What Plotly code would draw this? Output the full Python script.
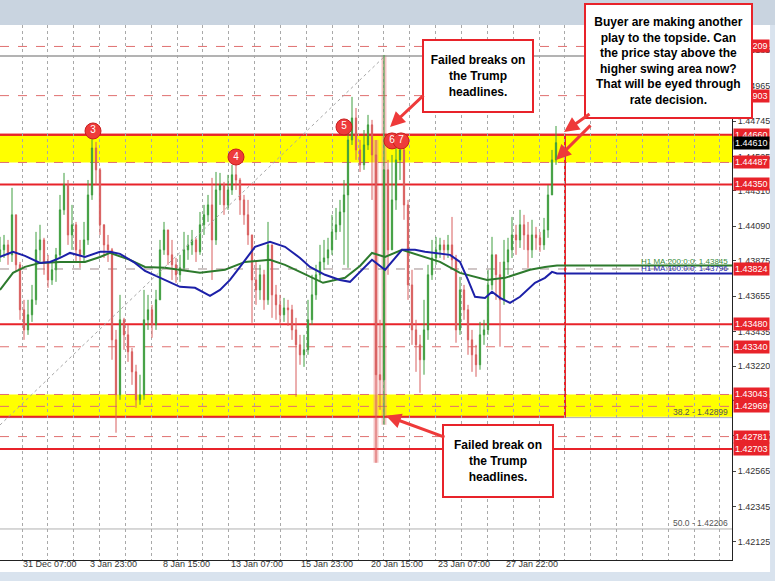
import plotly.graph_objects as go

# ---------------- data ----------------
bar_x = list(range(0, 560, 4))  # hourly-bar position index (4 bars per candle)
first_open = 1.43900
close = [1.43943,1.43974,1.43912,1.44161,1.43850,1.43570,1.43445,1.43539,1.43632,1.43943,
         1.44005,1.43868,1.43756,1.43819,1.43912,1.44192,1.44347,1.44036,1.44099,1.43943,
         1.43912,1.44005,1.44285,1.44577,1.44441,1.44099,1.43974,1.43943,1.43383,1.43041,
         1.43508,1.43414,1.43309,1.43184,1.43010,1.43041,1.43508,1.43570,1.43477,1.43632,
         1.43943,1.44067,1.43912,1.43850,1.43788,1.43831,1.43943,1.43974,1.44005,1.43931,
         1.44099,1.44161,1.44223,1.44005,1.44316,1.44347,1.44223,1.44316,1.44410,1.44378,
         1.44254,1.44161,1.44036,1.43756,1.43694,1.43788,1.43632,1.43974,1.43663,1.43601,
         1.43539,1.43582,1.43570,1.43445,1.43352,1.43290,1.43321,1.43508,1.43663,1.43788,
         1.43868,1.43893,1.43943,1.44055,1.44099,1.44179,1.44285,1.44627,1.44764,1.44565,
         1.44472,1.44596,1.44721,1.44534,1.43166,1.43134,1.44441,1.43943,1.44254,1.44503,
         1.44565,1.44223,1.43725,1.43445,1.43352,1.43259,1.43445,1.43788,1.43893,1.43943,
         1.43974,1.43943,1.43974,1.43881,1.43445,1.43694,1.43570,1.43383,1.43290,1.43228,
         1.43414,1.43445,1.43725,1.43912,1.43788,1.43632,1.43868,1.43943,1.44036,1.44005,
         1.44099,1.44036,1.43943,1.44036,1.44018,1.43974,1.44067,1.44285,1.44503,1.44610]
high = [1.44024,1.44036,1.44005,1.44329,1.44161,1.43868,1.43632,1.43632,1.43725,1.44055,
        1.44099,1.44018,1.43912,1.43868,1.43955,1.44285,1.44422,1.44378,1.44223,1.44117,
        1.44005,1.44117,1.44378,1.44633,1.44615,1.44453,1.44080,1.44036,1.43955,1.43445,
        1.43663,1.43520,1.43477,1.43333,1.43228,1.43166,1.43694,1.43663,1.43601,1.43694,
        1.44005,1.44117,1.44055,1.44005,1.43893,1.43912,1.44055,1.44036,1.44067,1.44018,
        1.44179,1.44223,1.44285,1.44391,1.44428,1.44422,1.44366,1.44410,1.44472,1.44484,
        1.44391,1.44285,1.44254,1.44036,1.43868,1.43850,1.43819,1.44117,1.43943,1.43725,
        1.43663,1.43644,1.43632,1.43601,1.43520,1.43414,1.43414,1.43632,1.43788,1.43850,
        1.43974,1.44005,1.44018,1.44161,1.44204,1.44254,1.44378,1.44689,1.44895,1.44826,
        1.44627,1.44689,1.44783,1.44752,1.44627,1.43508,1.45156,1.44503,1.44534,1.44596,
        1.44615,1.44577,1.44254,1.43819,1.43508,1.43414,1.43632,1.43850,1.44005,1.44024,
        1.44018,1.44005,1.44036,1.44148,1.43912,1.43775,1.43725,1.43601,1.43445,1.43352,
        1.43495,1.43508,1.43819,1.44024,1.43893,1.43868,1.44005,1.44018,1.44148,1.44099,
        1.44192,1.44161,1.44117,1.44130,1.44086,1.44055,1.44142,1.44347,1.44565,1.44714]
low = [1.43868,1.43893,1.43850,1.43868,1.43806,1.43508,1.43383,1.43414,1.43495,1.43601,
       1.43868,1.43788,1.43707,1.43725,1.43744,1.43893,1.44161,1.43974,1.43943,1.43868,
       1.43831,1.43868,1.43974,1.44254,1.44347,1.44036,1.43893,1.43868,1.43259,1.42805,
       1.43010,1.43321,1.43246,1.43103,1.42960,1.42979,1.43010,1.43445,1.43396,1.43445,
       1.43632,1.43912,1.43850,1.43756,1.43738,1.43744,1.43819,1.43881,1.43912,1.43868,
       1.43912,1.44036,1.44117,1.43756,1.43974,1.44223,1.44161,1.44192,1.44285,1.44316,
       1.44161,1.44099,1.43974,1.43489,1.43601,1.43632,1.43570,1.43601,1.43520,1.43508,
       1.43477,1.43495,1.43470,1.43383,1.43029,1.43228,1.43215,1.43290,1.43477,1.43632,
       1.43744,1.43819,1.43850,1.43912,1.44005,1.44055,1.43850,1.43831,1.44596,1.44503,
       1.44428,1.44441,1.44565,1.44254,1.42618,1.42948,1.42855,1.43788,1.43943,1.44192,
       1.44378,1.44130,1.43632,1.43352,1.43184,1.43054,1.43166,1.43383,1.43756,1.43850,
       1.43893,1.43881,1.43893,1.43819,1.43365,1.43414,1.43508,1.43290,1.43184,1.43153,
       1.43197,1.43352,1.43414,1.43694,1.43632,1.43340,1.43601,1.43788,1.43893,1.43912,
       1.43955,1.43943,1.43831,1.43893,1.43943,1.43931,1.43943,1.44018,1.44285,1.44472]
open_ = [first_open] + close[:-1]

headline_bars = [94, 96]  # Trump-headline spike candles (highlighted)

ma100_x = [0,13,25,40,50,60,70,85,100,110,120,135,145,160,180,195,210,220,230,240,
           255,270,285,300,310,325,340,350,362,372,385,395,402,415,425,450,460,468,475,485,
           492,500,510,520,535,545,552,557,732]
ma100 = [1.43899,1.43931,1.43906,1.43862,1.43868,1.43893,1.43924,1.43899,1.43931,1.43931,
         1.43918,1.43862,1.43812,1.43769,1.43713,1.43707,1.43657,1.43694,1.43756,1.43837,
         1.43962,1.43993,1.43962,1.43893,1.43837,1.43788,1.43756,1.43744,1.43819,1.43881,
         1.43819,1.43893,1.43943,1.43943,1.43931,1.43912,1.43868,1.43756,1.43651,1.43644,
         1.43682,1.43644,1.43613,1.43651,1.43738,1.43769,1.43806,1.43796,1.43796]
ma200_x = [0,13,25,40,60,85,100,110,130,145,165,185,200,225,245,270,285,300,323,345,
           360,372,385,402,425,440,460,487,505,530,545,557,732]
ma200 = [1.43694,1.43800,1.43837,1.43862,1.43868,1.43868,1.43899,1.43924,1.43881,1.43837,
         1.43831,1.43812,1.43800,1.43819,1.43868,1.43881,1.43850,1.43806,1.43738,1.43769,
         1.43843,1.43924,1.43899,1.43943,1.43899,1.43868,1.43800,1.43756,1.43769,1.43819,
         1.43837,1.43845,1.43845]

solid_levels = [1.44660, 1.44350, 1.43480, 1.42703]
dashed_levels = [1.45209, 1.44903, 1.44487, 1.43340, 1.43043, 1.42969, 1.42781]
yellow_zones = [(1.44487, 1.44660), (1.42905, 1.43043)]
fib_zero = 1.45150
fib_levels = [("38.2", 1.42899), ("50.0", 1.42206)]
fib_trend_x = [0, 385]
fib_trend_y = [1.42853, 1.45150]
ref_dashed = 1.43824

price_labels = [1.45209, 1.44903, 1.44660, 1.44610, 1.44487, 1.44350, 1.43824,
                1.43480, 1.43340, 1.43043, 1.42969, 1.42781, 1.42703]
current_price = 1.44610

y_ticks = [1.42125, 1.42345, 1.42565, 1.42785, 1.43005, 1.43220, 1.43435, 1.43655,
           1.43875, 1.44090, 1.44310, 1.44525, 1.44745, 1.44965, 1.45185]
x_tick_pos = [50, 113, 186, 257, 327, 397, 464, 532]
x_tick_text = ["31 Dec 07:00", "3 Jan 23:00", "8 Jan 15:00", "13 Jan 07:00",
               "15 Jan 23:00", "20 Jan 15:00", "23 Jan 07:00", "27 Jan 22:00"]

swing_x = [93, 236, 344, 392, 401]
swing_y = [1.44683, 1.44521, 1.44708, 1.44621, 1.44621]
swing_lbl = ["3", "4", "5", "6", "7"]

Y_MIN, Y_MAX = 1.420129, 1.453425
X_MAX = 732
RED = "#e8232a"

fig = go.Figure()

# MA lines
fig.add_trace(go.Scatter(x=ma200_x, y=ma200, mode="lines",
                         line=dict(color="#2d7a2d", width=2), hoverinfo="skip"))
fig.add_trace(go.Scatter(x=ma100_x, y=ma100, mode="lines",
                         line=dict(color="#1c20a8", width=2), hoverinfo="skip"))

# fib trend (dotted)
fig.add_trace(go.Scatter(x=fib_trend_x, y=fib_trend_y, mode="lines",
                         line=dict(color="#a8a8a8", width=1, dash="dot"), hoverinfo="skip"))

# candles
fig.add_trace(go.Candlestick(
    x=bar_x, open=open_, high=high, low=low, close=close,
    increasing=dict(line=dict(color="#3f9e3f", width=1), fillcolor="#3f9e3f"),
    decreasing=dict(line=dict(color="#d85e5e", width=1), fillcolor="#d85e5e"),
    whiskerwidth=0, hoverinfo="skip"))

# swing markers
fig.add_trace(go.Scatter(x=swing_x, y=swing_y, mode="markers+text", text=swing_lbl,
                         textposition="middle center",
                         textfont=dict(color="white", size=10, family="Liberation Sans"),
                         marker=dict(size=16, color="#ee3b3b", line=dict(color="#c81e1e", width=1)),
                         hoverinfo="skip"))

shapes = []
# yellow zones
for lo_, hi_ in yellow_zones:
    shapes.append(dict(type="rect", xref="x", yref="y", x0=0, x1=X_MAX, y0=lo_, y1=hi_,
                       fillcolor="#ffff00", line=dict(width=0), layer="below"))
# highlight of headline candles
for i in headline_bars:
    shapes.append(dict(type="rect", xref="x", yref="y", x0=bar_x[i] - 2.5, x1=bar_x[i] + 2.5,
                       y0=low[i], y1=high[i], fillcolor="rgba(236,150,150,0.55)",
                       line=dict(width=0), layer="below"))
# fib lines
shapes.append(dict(type="line", xref="x", yref="y", x0=0, x1=X_MAX, y0=fib_zero, y1=fib_zero,
                   line=dict(color="#9a9a9a", width=1.5), layer="below"))
for _, v in fib_levels:
    shapes.append(dict(type="line", xref="x", yref="y", x0=0, x1=X_MAX, y0=v, y1=v,
                       line=dict(color="#b0b0b0", width=1), layer="below"))
# reference dashed line
shapes.append(dict(type="line", xref="x", yref="y", x0=0, x1=X_MAX, y0=ref_dashed, y1=ref_dashed,
                   line=dict(color="#a08c8c", width=1, dash="dash"), layer="below"))
# dashed red levels
for v in dashed_levels:
    shapes.append(dict(type="line", xref="x", yref="y", x0=0, x1=X_MAX, y0=v, y1=v,
                       line=dict(color="#e07070", width=1, dash="dash"), layer="below"))
# solid red levels
for v in solid_levels:
    shapes.append(dict(type="line", xref="x", yref="y", x0=0, x1=X_MAX, y0=v, y1=v,
                       line=dict(color=RED, width=2), layer="below"))
# range rectangle
shapes.append(dict(type="rect", xref="x", yref="y", x0=-5, x1=565, y0=yellow_zones[1][0],
                   y1=solid_levels[0], line=dict(color=RED, width=2), layer="below"))
# window chrome
shapes.append(dict(type="rect", xref="paper", yref="paper", x0=-0.01, x1=1.07, y0=1.0, y1=1.06,
                   fillcolor="#c9d4e0", line=dict(width=0), layer="above"))
shapes.append(dict(type="rect", xref="paper", yref="paper", x0=-0.01, x1=1.07, y0=-0.045, y1=-0.0225,
                   fillcolor="#d9e3ee", line=dict(width=0), layer="above"))
shapes.append(dict(type="rect", xref="paper", yref="paper", x0=1.052, x1=1.07, y0=-0.05, y1=1.0,
                   fillcolor="#d9e3ee", line=dict(width=0), layer="above"))

annotations = []
# x-axis date labels (placed just under the axis line)
for xp, txt in zip(x_tick_pos, x_tick_text):
    annotations.append(dict(x=xp, xref="x", yref="paper", y=-4 / 535, xanchor="center",
                            yanchor="middle", text=txt, showarrow=False,
                            font=dict(color="#333333", size=9, family="Liberation Sans")))
# price labels on right axis
for v in price_labels:
    annotations.append(dict(xref="paper", yref="y", x=1.0, y=v, xanchor="left", yanchor="middle",
                            text=f"{v:.5f}", showarrow=False,
                            font=dict(color="white", size=9, family="Liberation Sans"),
                            bgcolor="black" if v == current_price else RED,
                            borderpad=1, xshift=1))
# MA labels
annotations.append(dict(x=X_MAX - 2, y=ma200[-1], xanchor="right", yanchor="bottom",
                        text=f"H1 MA:200:0:0: {ma200[-1]:.5f}", showarrow=False,
                        font=dict(color="#3a8a3a", size=8, family="Liberation Sans"), yshift=-2))
annotations.append(dict(x=X_MAX - 2, y=ma100[-1], xanchor="right", yanchor="bottom",
                        text=f"H1 MA:100:0:0: {ma100[-1]:.5f}", showarrow=False,
                        font=dict(color="#2a2ab0", size=8, family="Liberation Sans"), yshift=-2))
# fib labels
for name, v in fib_levels:
    annotations.append(dict(x=X_MAX - 2, y=v, xanchor="right", yanchor="bottom",
                            text=f"{name} - {v:.5f}", showarrow=False,
                            font=dict(color="#555555", size=8.5, family="Liberation Sans"), yshift=-1))

# text boxes
box_font = dict(color="black", size=12, family="Liberation Sans")
def box(text, xc, yc, w, h):
    return dict(xref="paper", yref="paper", x=xc, y=yc, xanchor="center", yanchor="middle",
                text=text, showarrow=False, font=box_font, align="center", valign="middle",
                width=w, height=h, bgcolor="white", bordercolor=RED, borderwidth=2, borderpad=2)

annotations.append(box("<b>Failed breaks on<br>the Trump<br>headlines.</b>", 478 / 732, (560 - 76) / 535, 104, 66))
annotations.append(box("<b>Buyer are making another<br>play to the topside. Can<br>the price stay above the<br>"
                       "higher swing area now?<br>That will be eyed through<br>rate decision.</b>",
                       668.5 / 732, (560 - 61) / 535, 161, 108))
annotations.append(box("<b>Failed break on<br>the Trump<br>headlines.</b>", 498 / 732, (560 - 461) / 535, 104, 66))

# arrows
def arrow(x, y, ax, ay):
    return dict(x=x, y=y, xref="x", yref="y", ax=ax, ay=ay, text="", showarrow=True,
                arrowhead=2, arrowsize=1, arrowwidth=3, arrowcolor="#ee3a3a")
annotations.append(arrow(390, 1.44708, 35, -33))
annotations.append(arrow(386, 1.42911, 60, 22))
annotations.append(arrow(564, 1.44677, 27, -19))
annotations.append(arrow(556, 1.44503, 36, -36))

fig.update_layout(
    width=775, height=581,
    margin=dict(l=0, r=43, t=25, b=21),
    paper_bgcolor="white", plot_bgcolor="white",
    showlegend=False, boxgap=0.55,
    shapes=shapes, annotations=annotations,
    xaxis=dict(range=[0, X_MAX], rangeslider=dict(visible=False), showgrid=False,
               zeroline=False, showline=True, linecolor="#222", linewidth=1,
               tickmode="array", tickvals=x_tick_pos, ticktext=x_tick_text,
               showticklabels=False, ticks="",
               minor=dict(tickmode="linear", tick0=22, dtick=25.85, showgrid=True,
                          gridcolor="#a9a9a9", griddash="dot", gridwidth=1, ticks="")),
    yaxis=dict(range=[Y_MIN, Y_MAX], side="right", showgrid=False, zeroline=False,
               showline=True, linecolor="#222", linewidth=1,
               tickmode="array", tickvals=y_ticks, ticktext=[f"{v:.5f}" for v in y_ticks],
               ticks="outside", ticklen=3, tickcolor="#444",
               tickfont=dict(size=9, color="#333", family="Liberation Sans")),
)

fig.write_html("out.html", config={"displayModeBar": False},
               post_script="document.body.style.margin='0px';document.body.style.overflow='hidden';")
